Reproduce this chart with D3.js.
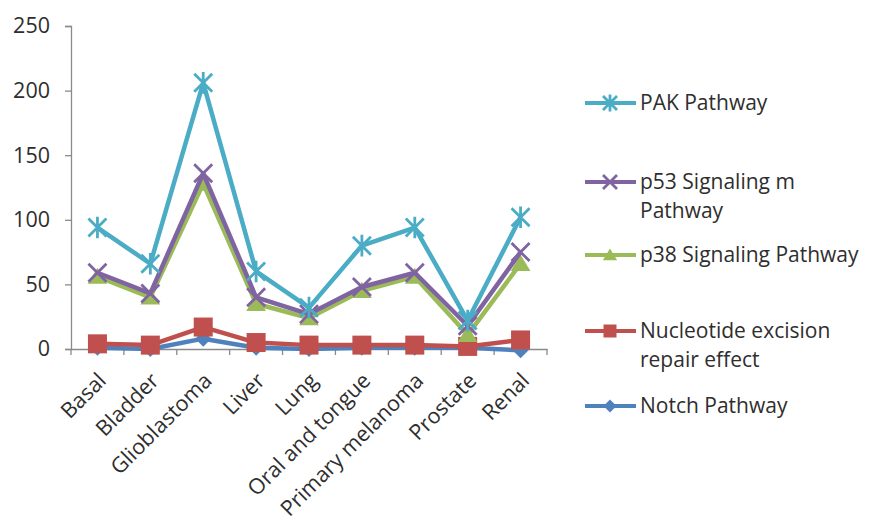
<!DOCTYPE html>
<html><head><meta charset="utf-8">
<script src="https://cdn.jsdelivr.net/npm/d3@7"></script>
<style>body{margin:0;background:#fff}svg{display:block}</style>
</head><body>
<svg id="c" width="874" height="521"></svg>
<script>
const categories = ["Basal","Bladder","Glioblastoma","Liver","Lung","Oral and tongue","Primary melanoma","Prostate","Renal"];
const pakValues = [94,66,206,60,32,80,94,22,102];
const p53Values = [59,43,136,40,27,48,59,18,75];
const p38Values = [56,40,128,35,24,45,56,11,66];
const nerValues = [4,3,17,5,3,3,3,2,7];
const notchValues = [1,0,8,1,0,1,1,1,-1];
const yTicks = [0,50,100,150,200,250];
const seriesNames = ["PAK Pathway","p53 Signaling m Pathway","p38 Signaling Pathway","Nucleotide excision repair effect","Notch Pathway"];

const series = [
  {name:seriesNames[4], values:notchValues, color:"#4F81BD", marker:"diamond", lines:["Notch Pathway"], ly:406},
  {name:seriesNames[3], values:nerValues, color:"#C0504D", marker:"square", lines:["Nucleotide excision","repair effect"], ly:331},
  {name:seriesNames[2], values:p38Values, color:"#9BBB59", marker:"triangle", lines:["p38 Signaling Pathway"], ly:255},
  {name:seriesNames[1], values:p53Values, color:"#8064A2", marker:"x", lines:["p53 Signaling m","Pathway"], ly:182},
  {name:seriesNames[0], values:pakValues, color:"#4BACC6", marker:"star", lines:["PAK Pathway"], ly:103}
];

const svg = d3.select("#c");
const font = "'Open Sans', sans-serif";
const textColor = "#2e2e2e";
const x0 = 71, x1 = 547, yTop = 26, yBot = 349;
const x = d3.scaleBand().domain(categories).range([x0,x1]);
const y = d3.scaleLinear().domain([0,250]).range([yBot,yTop]);

// y axis
const yAxis = svg.append("g").attr("transform",`translate(${x0},0)`)
  .call(d3.axisLeft(y).tickValues(yTicks).tickSize(6).tickPadding(15));
yAxis.select(".domain").attr("stroke","#8a8a8a").attr("stroke-width",1.3);
yAxis.selectAll(".tick line").attr("stroke","#8a8a8a").attr("stroke-width",1.3);
yAxis.selectAll(".tick text").attr("font-family",font).attr("font-size",21.5).attr("fill",textColor);

// x axis
const xAxis = svg.append("g").attr("transform",`translate(0,${yBot})`)
  .call(d3.axisBottom(x).tickSize(0).tickFormat(d=>d));
xAxis.select(".domain").attr("stroke","#8a8a8a").attr("stroke-width",1.3);
xAxis.selectAll(".tick text")
  .attr("font-family",font).attr("font-size",21.5).attr("fill",textColor)
  .attr("text-anchor","end").attr("dy",0).attr("y",0)
  .attr("transform","translate(10,33) rotate(-45)");
// boundary ticks
const bounds = d3.range(categories.length+1).map(i=> x0 + i*x.bandwidth());
svg.append("g").selectAll("line").data(bounds).join("line")
  .attr("x1",d=>d).attr("x2",d=>d).attr("y1",yBot).attr("y2",yBot+6)
  .attr("stroke","#8a8a8a").attr("stroke-width",1.3);

const cx = d => x(d) + x.bandwidth()/2;

function drawMarker(g, type, color, px, py, s){
  if(type==="diamond"){
    g.append("path").attr("d",`M${px},${py-s}L${px+s},${py}L${px},${py+s}L${px-s},${py}Z`).attr("fill",color);
  } else if(type==="square"){
    g.append("rect").attr("x",px-s).attr("y",py-s).attr("width",2*s).attr("height",2*s).attr("fill",color);
  } else if(type==="triangle"){
    g.append("path").attr("d",`M${px},${py-s}L${px+s*1.1},${py+s*0.8}L${px-s*1.1},${py+s*0.8}Z`).attr("fill",color);
  } else if(type==="x"){
    g.append("path").attr("d",`M${px-s},${py-s}L${px+s},${py+s}M${px-s},${py+s}L${px+s},${py-s}`).attr("stroke",color).attr("stroke-width",2.8);
  } else if(type==="star"){
    g.append("path").attr("d",`M${px-s},${py-s}L${px+s},${py+s}M${px-s},${py+s}L${px+s},${py-s}M${px},${py-s*1.2}L${px},${py+s*1.2}`).attr("stroke",color).attr("stroke-width",2.8);
  }
}
const markerSize = {diamond:8,square:9.5,triangle:9,x:9,star:9};

const line = d3.line().x((d,i)=>cx(categories[i])).y(d=>y(d));
series.forEach(s=>{
  const g = svg.append("g");
  g.append("path").datum(s.values).attr("d",line).attr("fill","none")
    .attr("stroke",s.color).attr("stroke-width",4.5).attr("stroke-linejoin","round");
  s.values.forEach((v,i)=> drawMarker(g, s.marker, s.color, cx(categories[i]), y(v), markerSize[s.marker]));
});

// legend
const lg = svg.append("g");
series.forEach(s=>{
  lg.append("line").attr("x1",585).attr("x2",636).attr("y1",s.ly).attr("y2",s.ly)
    .attr("stroke",s.color).attr("stroke-width",4);
  drawMarker(lg, s.marker, s.color, 610, s.ly, s.marker==="x"||s.marker==="star"?7:6.5);
  s.lines.forEach((t,k)=>{
    lg.append("text").attr("x",640).attr("y",s.ly + k*29).attr("dy","0.35em")
      .attr("font-family",font).attr("font-size",21).attr("fill",textColor).text(t);
  });
});
</script>
</body></html>
